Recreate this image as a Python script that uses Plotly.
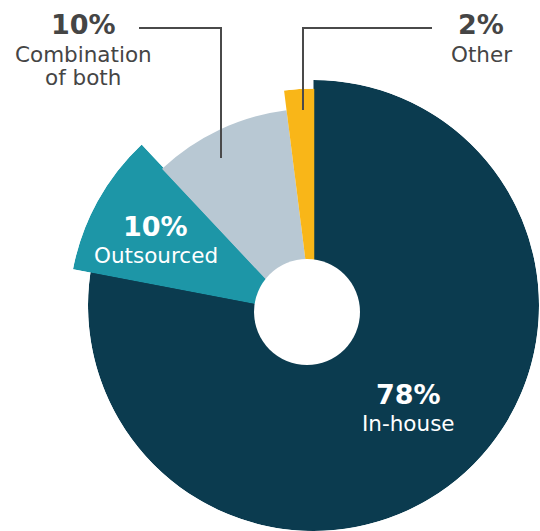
import math
import plotly.graph_objects as go

# ---- data -------------------------------------------------------------
labels = ["In-house", "Outsourced", "Combination of both", "Other"]
shares = [78, 10, 10, 2]
pct_text = ["78%", "10%", "10%", "2%"]
label_lines = [["In-house"], ["Outsourced"], ["Combination", "of both"], ["Other"]]

# ---- styling ----------------------------------------------------------
W, H = 540, 531
colors = ["#0b3b4f", "#1d96a7", "#b8c8d3", "#f9b618"]
slice_radius = [225.5, 230.6, 223.0, 243.0]      # outer radius of each wedge (px)
FONT = "DejaVu Sans"
INK = "#454545"

# wedges drawn from a shared pivot share one polar subplot (pivot in px)
groups = [
    {"members": [0], "pivot": (313.5, 305.5), "full": True},
    {"members": [1], "pivot": (299.5, 312.5), "full": False},
    {"members": [2, 3], "pivot": (314.5, 331.5), "full": False},
]

# clockwise angles measured from 12 o'clock
starts = []
acc = 0.0
for s in shares:
    starts.append(acc * 3.6)
    acc += s
widths = [s * 3.6 for s in shares]


def sector_bbox(a0, a1):
    """Bounding box of a polar sector on the unit circle (same rule plotly.js uses)."""
    arc = a1 - a0
    a0 = a0 % 360
    a1 = a0 + arc
    ax0, ay0 = math.cos(math.radians(a0)), math.sin(math.radians(a0))
    ax1, ay1 = math.cos(math.radians(a1)), math.sin(math.radians(a1))
    if (a0 <= 90 and a1 >= 90) or (a0 > 90 and a1 >= 450):
        y1 = 1
    elif ay0 <= 0 and ay1 <= 0:
        y1 = 0
    else:
        y1 = max(ay0, ay1)
    if (a0 <= 180 and a1 >= 180) or (a0 > 180 and a1 >= 540):
        x0 = -1
    elif ax0 >= 0 and ax1 >= 0:
        x0 = 0
    else:
        x0 = min(ax0, ax1)
    if (a0 <= 270 and a1 >= 270) or (a0 > 270 and a1 >= 630):
        y0 = -1
    elif ay0 >= 0 and ay1 >= 0:
        y0 = 0
    else:
        y0 = min(ay0, ay1)
    if a1 >= 360:
        x1 = 1
    elif ax0 <= 0 and ax1 <= 0:
        x1 = 0
    else:
        x1 = max(ax0, ax1)
    return [x0, y0, x1, y1], [a0, a1]


def clamp(v):
    return min(1.0, max(0.0, v))


fig = go.Figure()
layout_polars = {}

for gi, g in enumerate(groups):
    name = "polar" if gi == 0 else f"polar{gi + 1}"
    mem = g["members"]
    cx, cy = g["pivot"]
    R = max(slice_radius[i] for i in mem)
    cw0 = starts[mem[0]]
    cw1 = starts[mem[-1]] + widths[mem[-1]]
    if g["full"]:
        bb, sector = [-1, -1, 1, 1], [0, 360]
    else:
        # clockwise-from-top -> counterclockwise-from-east
        bb, sector = sector_bbox(90 - cw1, 90 - cw0)
    dom_x = [clamp((cx + R * bb[0]) / W), clamp((cx + R * bb[2]) / W)]
    dom_y = [clamp(1 - (cy - R * bb[1]) / H), clamp(1 - (cy - R * bb[3]) / H)]
    dom_y.sort()

    fig.add_trace(go.Barpolar(
        r=[slice_radius[i] for i in mem],
        theta=[starts[i] + widths[i] / 2 for i in mem],
        width=[widths[i] for i in mem],
        marker=dict(color=[colors[i] for i in mem], line=dict(width=0)),
        text=[labels[i] for i in mem],
        hoverinfo="text",
        subplot=name,
        showlegend=False,
    ))

    layout_polars[name] = dict(
        domain=dict(x=dom_x, y=dom_y),
        sector=sector,
        bgcolor="rgba(0,0,0,0)",
        radialaxis=dict(range=[0, R], visible=False, showgrid=False),
        angularaxis=dict(rotation=90, direction="clockwise", visible=False,
                         showgrid=False),
    )


def px(x, y):
    return x / W, 1 - y / H


shapes = []
# centre hole
hx0, hy0 = px(254, 365)
hx1, hy1 = px(360, 259)
shapes.append(dict(type="circle", xref="paper", yref="paper",
                   x0=hx0, y0=hy0, x1=hx1, y1=hy1,
                   fillcolor="white", line=dict(width=0), layer="above"))

# leader lines for the callouts above the chart
for pts in ([(139, 28), (221, 28), (221, 158)],
            [(432, 28), (303, 28), (303, 110)]):
    path = ""
    for k, (x, y) in enumerate(pts):
        X, Y = px(x, y)
        path += ("M" if k == 0 else "L") + f"{X:.5f},{Y:.5f} "
    shapes.append(dict(type="path", xref="paper", yref="paper", path=path.strip(),
                       line=dict(color="#4a4a4a", width=2), layer="above"))

# callout positions (px): percent line, then each label line
text_pos = {
    0: dict(x=408, yp=394, yl=[423.5], color="white"),
    1: dict(x=155.5, yp=226.5, yl=[255], color="white"),
    2: dict(x=83, yp=24, yl=[54.5, 77.5], color=INK),
    3: dict(x=481, yp=24, yl=[54.5], color=INK),
}

annotations = []
for i, tp in text_pos.items():
    X, Yp = px(tp["x"], tp["yp"])
    annotations.append(dict(
        x=X, y=Yp, xref="paper", yref="paper", showarrow=False,
        text=f"<b>{pct_text[i]}</b>", xanchor="center", yanchor="middle",
        font=dict(family=FONT, size=27, color=tp["color"])))
    for line, yl in zip(label_lines[i], tp["yl"]):
        _, Yl = px(tp["x"], yl)
        annotations.append(dict(
            x=X, y=Yl, xref="paper", yref="paper", showarrow=False,
            text=line, xanchor="center", yanchor="middle",
            font=dict(family=FONT, size=21.5, color=tp["color"])))

fig.update_layout(
    width=W, height=H,
    margin=dict(l=0, r=0, t=0, b=0),
    paper_bgcolor="white",
    plot_bgcolor="white",
    showlegend=False,
    shapes=shapes,
    annotations=annotations,
    **layout_polars,
)

fig.write_html("out.html")
